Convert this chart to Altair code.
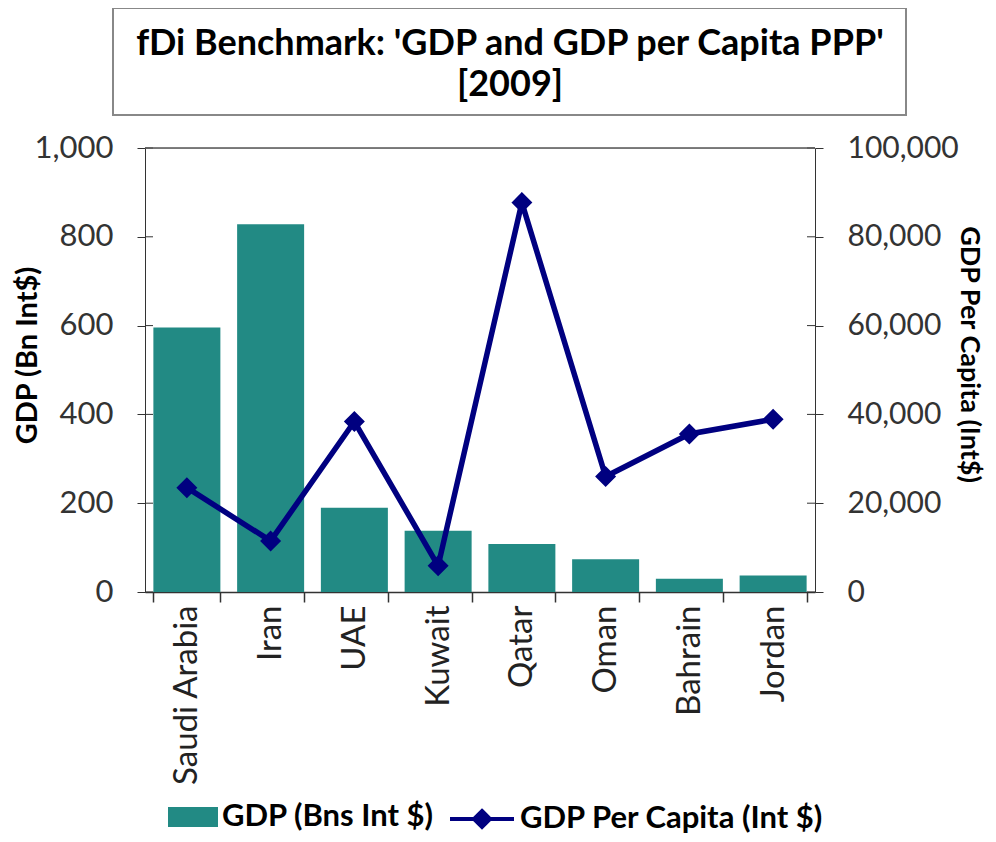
import altair as alt
import pandas as pd

countries = ["Saudi Arabia", "Iran", "UAE", "Kuwait", "Qatar", "Oman", "Bahrain", "Jordan"]
gdp_bn = [596, 828, 190, 138, 108, 74, 30, 37]
gdp_per_capita = [23500, 11500, 38400, 5900, 87700, 26000, 35600, 38900]
left_ticks = [0, 200, 400, 600, 800, 1000]
right_ticks = [0, 20000, 40000, 60000, 80000, 100000]
title_text = "fDi Benchmark: 'GDP and GDP per Capita PPP'\n[2009]"

bar_name = "GDP (Bns Int $)"
line_name = "GDP Per Capita (Int $)"
teal = "#228A84"
navy = "#000080"
FONT = "Lato"

df = pd.DataFrame({"country": countries, "gdp": gdp_bn, "pc": gdp_per_capita,
                   "s1": [bar_name] * len(countries), "s2": [line_name] * len(countries)})
ticks_df = pd.DataFrame({"v": left_ticks})

W, H = 670, 444

xenc = alt.X("country:N", sort=countries, title=None,
             scale=alt.Scale(paddingInner=0.2, paddingOuter=0.1),
             axis=alt.Axis(labelAngle=-90, labelAlign="right", labelBaseline="middle",
                           labelFontSize=33, labelFont=FONT, labelColor="#222",
                           labelPadding=3, labelLimit=400, tickBand="extent", tickSize=10,
                           tickColor="#333", domainColor="#333", tickWidth=1.5, domainWidth=1.5))

bars = alt.Chart(df).mark_bar(color=teal).encode(
    x=xenc,
    y=alt.Y("gdp:Q", scale=alt.Scale(domain=[0, 1000], nice=False),
            axis=alt.Axis(values=left_ticks, format=",.0f", orient="left", grid=False,
                          labelFontSize=31, labelFont=FONT, labelColor="#333",
                          labelPadding=24, tickSize=8, tickColor="#333", domainColor="#333",
                          title="GDP (Bn Int$)", titleFontSize=29, titleFont=FONT,
                          titleFontWeight="bold", titleColor="#000",
                          titleX=-118, titleY=207, titleAngle=-90,
                          titleBaseline="middle", titleAlign="center")),
    fill=alt.Fill("s1:N", scale=alt.Scale(domain=[bar_name], range=[teal]),
                  legend=alt.Legend(orient="none", legendX=23, legendY=644, title=None,
                                    symbolType="M-1,-0.4L1,-0.4L1,0.4L-1,0.4Z",
                                    symbolSize=2500, symbolStrokeWidth=0,
                                    labelFontSize=31, labelFontWeight="bold",
                                    labelFont=FONT, labelColor="#000",
                                    labelOffset=4, labelLimit=500)),
)

line = alt.Chart(df).mark_line(
    strokeWidth=5.5, color=navy,
    point=alt.OverlayMarkDef(shape="diamond", size=330, filled=True, color=navy),
).encode(
    x=alt.X("country:N", sort=countries),
    y=alt.Y("pc:Q", scale=alt.Scale(domain=[0, 100000], nice=False),
            axis=alt.Axis(values=right_ticks, format=",.0f", orient="right", grid=False,
                          labelFontSize=30, labelFont=FONT, labelColor="#333",
                          labelPadding=24, tickSize=8, tickColor="#333", domainColor="#333",
                          title="GDP  Per Capita (Int$)", titleFontSize=27, titleFont=FONT,
                          titleFontWeight="bold", titleColor="#000",
                          titleX=153, titleY=206, titleAngle=90,
                          titleBaseline="middle", titleAlign="center")),
    stroke=alt.Stroke("s2:N", scale=alt.Scale(domain=[line_name], range=[navy]),
                      legend=alt.Legend(orient="none", legendX=303, legendY=637, title=None,
                                        symbolType="M-1,0L1,0M0,-0.25L0.25,0L0,0.25L-0.25,0Z",
                                        symbolSize=4096, symbolStrokeWidth=4,
                                        symbolFillColor=navy,
                                        labelFontSize=31, labelFontWeight="bold",
                                        labelFont=FONT, labelColor="#000",
                                        labelOffset=4, labelLimit=500)),
)

inner_left = alt.Chart(ticks_df).mark_rule(color="#333").encode(
    y=alt.Y("v:Q", scale=alt.Scale(domain=[0, 1000], nice=False), axis=None),
    x=alt.value(0), x2=alt.value(8))
inner_right = alt.Chart(ticks_df).mark_rule(color="#333").encode(
    y=alt.Y("v:Q", scale=alt.Scale(domain=[0, 1000], nice=False), axis=None),
    x=alt.value(W - 8), x2=alt.value(W))

one = pd.DataFrame({"t": [title_text]})
top_border = alt.Chart(one).mark_rule(color="#555", strokeWidth=1.5).encode(
    x=alt.value(0), x2=alt.value(W), y=alt.value(0))

title_box = alt.Chart(one).mark_rect(
    fill="white", stroke="#888", strokeWidth=2).encode(
    x=alt.value(-32), x2=alt.value(761), y=alt.value(-140), y2=alt.value(-33))

title_mark = alt.Chart(one).mark_text(
    font=FONT, fontSize=36, fontWeight="bold", color="#000", align="center",
    baseline="middle", lineBreak="\n", lineHeight=41).encode(
    text="t:N", x=alt.value(365), y=alt.value(-104))

chart = alt.layer(title_box, title_mark, bars, line, inner_left, inner_right, top_border).resolve_scale(
    y="independent", fill="independent", stroke="independent"
).properties(
    width=W, height=H,
    autosize=alt.AutoSizeParams(type="none"),
    padding={"left": 137, "top": 140, "right": 173, "bottom": 242},
).configure_view(stroke="#555", strokeWidth=1.5).configure(background="white")

chart.save("out.html", embed_options={"renderer": "svg", "actions": False})
